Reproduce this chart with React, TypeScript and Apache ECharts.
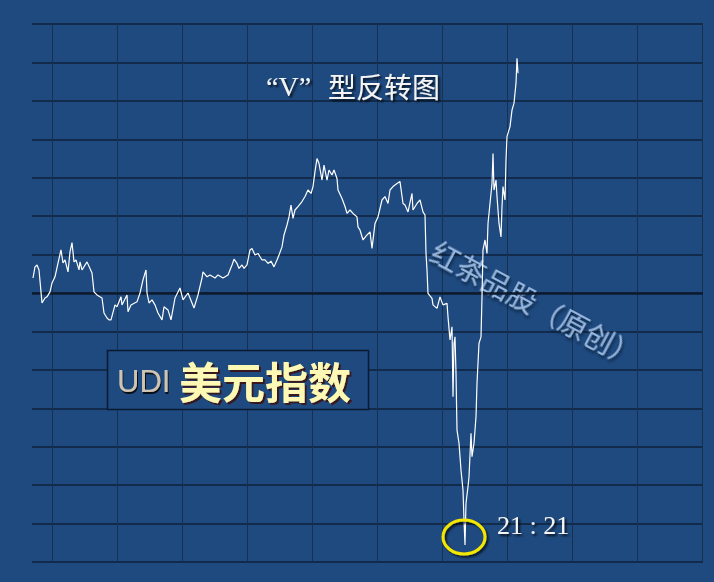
import React, { useEffect, useRef } from "react";
import * as echarts from "echarts";

// Time (minutes from the start of the chart window) and index value (10 units per grid row)
const minutes = [
  1, 3, 5, 7, 9, 10, 13, 15, 18, 20, 23, 26, 29, 31, 33, 36, 38, 40, 42, 44, 47, 48, 50, 55, 60,
  62, 65, 70, 72, 75, 77, 79, 83, 85, 89, 90, 95, 96, 99, 105, 108, 111, 114, 115, 117, 120, 123,
  126, 130, 132, 136, 139, 143, 148, 151, 156, 162, 166, 170, 171, 175, 178, 183, 186, 191, 196,
  200, 202, 205, 207, 210, 212, 215, 218, 220, 223, 226, 230, 233, 236, 239, 242, 245, 247, 250,
  252, 255, 257, 259, 261, 263, 266, 270, 273, 276, 279, 281, 283, 285, 287, 290, 292, 295, 297,
  300, 302, 305, 306, 310, 313, 315, 318, 321, 325, 326, 328, 331, 335, 338, 340, 343, 346, 350,
  353, 356, 358, 361, 365, 368, 371, 373, 376, 380, 381, 385, 388, 391, 393, 394, 395, 396, 400,
  401, 405, 408, 411, 415, 416, 418, 420, 421, 422, 423, 424, 425, 427, 429, 431, 432, 433, 434,
  436, 437, 439, 440, 442, 444, 445, 447, 449, 450, 451, 453, 455, 456, 458, 460, 461, 462, 464,
  465, 467, 469, 470, 471, 473, 474, 475, 478, 480, 482, 484, 485, 486,
];
const values = [
  73.9, 76.8, 77.3, 76.0, 70.3, 67.4, 68.7, 69.0, 70.3, 72.6, 74.2, 77.8, 81.2, 77.8, 78.6, 75.5,
  80.7, 83.1, 78.1, 78.6, 76.0, 78.1, 76.0, 78.1, 75.2, 70.3, 69.5, 68.7, 64.8, 63.5, 63.0, 63.0,
  66.9, 66.4, 69.0, 66.9, 69.5, 65.1, 66.9, 67.7, 70.0, 73.4, 76.0, 70.0, 67.4, 68.2, 66.9, 64.8,
  63.0, 66.4, 65.6, 63.0, 68.7, 71.3, 68.2, 70.0, 66.1, 69.5, 73.9, 75.5, 74.2, 74.7, 73.9, 74.7,
  73.9, 74.7, 77.3, 78.8, 77.7, 76.4, 77.3, 76.4, 77.3, 81.2, 81.6, 79.9, 80.3, 78.6, 78.6, 77.7,
  78.3, 76.8, 78.6, 79.9, 82.0, 85.1, 87.7, 89.8, 92.9, 89.4, 91.6, 92.5, 93.8, 95.1, 96.8, 95.9,
  97.7, 101.6, 105.0, 103.7, 99.4, 103.3, 99.4, 102.0, 100.7, 102.0, 99.8, 96.8, 94.6, 92.5, 90.7,
  91.6, 90.7, 89.8, 87.2, 86.4, 83.8, 85.1, 85.9, 81.6, 88.1, 89.8, 94.2, 95.1, 93.3, 96.8, 97.7,
  98.5, 99.0, 93.3, 92.9, 91.1, 95.9, 91.6, 93.3, 94.2, 91.1, 90.3, 80.3, 76.0, 69.9, 68.6, 66.9,
  66.0, 69.0, 66.9, 67.3, 63.8, 57.8, 61.2, 43.0, 56.9, 58.6, 49.2, 34.3, 30.9, 23.9, 18.7, 10.9,
  4.4, 15.3, 19.6, 22.2, 33.5, 27.4, 30.9, 37.8, 46.5, 56.9, 58.6, 69.0, 81.2, 83.8, 80.3, 88.1,
  93.3, 98.5, 106.3, 96.8, 99.4, 95.1, 88.1, 84.6, 92.5, 97.7, 94.2, 104.6, 110.7, 113.3, 117.6,
  119.4, 124.6, 131.1, 127.2,
];
const yMin = 0;
const yMax = 140;
const yStep = 10;
const midLevel = 70;
const timeSpan = 671;
const verticalDivisions = 10;

const titleQuote = "“V”";
const titleText = "型反转图";
const lowTimeLabel = "21 : 21";
const codeLabel = "UDI";
const nameLabel = "美元指数";
const watermark = "红茶品股（原创）";

const BG = "#1f4a7f";

export default function App() {
  const ref = useRef<HTMLDivElement>(null);
  useEffect(() => {
    if (!ref.current) return;
    const chart = echarts.init(ref.current, null, { renderer: "svg" });
    const data = minutes.map((m, i) => [m, values[i]]);
    const textShadow = {
      textShadowColor: "rgba(0,0,0,0.75)",
      textShadowBlur: 2,
      textShadowOffsetX: 2,
      textShadowOffsetY: 2,
    };
    chart.setOption({
      animation: false,
      backgroundColor: BG,
      grid: [
        { left: 32, top: 24, width: 671, height: 538 },
        { left: 52, top: 24, width: 650, height: 538 },
      ],
      xAxis: [
        { type: "value", gridIndex: 0, min: 0, max: timeSpan, show: false },
        {
          type: "value",
          gridIndex: 1,
          min: 0,
          max: verticalDivisions,
          interval: 1,
          axisLine: { show: false },
          axisTick: { show: false },
          axisLabel: { show: false },
          splitLine: { show: true, lineStyle: { color: "#15314f", width: 1 } },
        },
      ],
      yAxis: [
        {
          type: "value",
          gridIndex: 0,
          min: yMin,
          max: yMax,
          interval: yStep,
          axisLine: { show: false },
          axisTick: { show: false },
          axisLabel: { show: false },
          splitLine: { show: true, lineStyle: { color: "#0f223b", width: 1.5 } },
        },
        { type: "value", gridIndex: 1, min: 0, max: 1, show: false },
      ],
      series: [
        {
          type: "line",
          xAxisIndex: 0,
          yAxisIndex: 0,
          data,
          symbol: "none",
          showSymbol: false,
          z: 3,
          lineStyle: { color: "#ffffff", width: 1.2 },
          markLine: {
            silent: true,
            z: 1,
            symbol: ["none", "none"],
            label: { show: false },
            lineStyle: { color: "#0e1b2e", width: 2.5, type: "solid" },
            data: [{ yAxis: midLevel }],
          },
        },
      ],
      graphic: [
        {
          type: "text",
          z: 1,
          x: 536,
          y: 303,
          rotation: -0.49,
          style: {
            text: watermark,
            font: '29px "Noto Sans CJK SC"',
            fill: "#a9c8ef",
            opacity: 0.85,
            align: "center",
            verticalAlign: "middle",
            textAlign: "center",
            textVerticalAlign: "middle",
            textShadowColor: "rgba(5,20,45,0.9)",
            textShadowBlur: 3,
            textShadowOffsetX: 2,
            textShadowOffsetY: 2,
          },
        },
        {
          type: "text",
          z: 10,
          x: 266,
          y: 86,
          style: {
            text: titleQuote,
            font: '28px "Liberation Serif"',
            fill: "#f4f4f4",
            align: "left",
            verticalAlign: "middle",
            textAlign: "left",
            textVerticalAlign: "middle",
            ...textShadow,
          },
        },
        {
          type: "text",
          z: 10,
          x: 328,
          y: 86,
          style: {
            text: titleText,
            font: '28px "Noto Sans CJK SC"',
            fill: "#f4f4f4",
            align: "left",
            verticalAlign: "middle",
            textAlign: "left",
            textVerticalAlign: "middle",
            ...textShadow,
          },
        },
        {
          type: "ellipse",
          z: 10,
          shape: { cx: 464, cy: 537, rx: 21, ry: 17 },
          style: {
            fill: "none",
            stroke: "#f3e600",
            lineWidth: 3,
            shadowColor: "rgba(0,0,0,0.7)",
            shadowBlur: 2,
            shadowOffsetX: 2,
            shadowOffsetY: 2,
          },
        },
        {
          type: "text",
          z: 10,
          x: 497,
          y: 525,
          style: {
            text: lowTimeLabel,
            font: '26px "Liberation Serif"',
            fill: "#f4f4f4",
            align: "left",
            verticalAlign: "middle",
            textAlign: "left",
            textVerticalAlign: "middle",
            ...textShadow,
          },
        },
        {
          type: "rect",
          z: 8,
          shape: { x: 107.5, y: 350.5, width: 261, height: 59 },
          style: { fill: BG, stroke: "#0b1933", lineWidth: 1.5 },
        },
        {
          type: "text",
          z: 10,
          x: 117,
          y: 381,
          style: {
            text: codeLabel,
            font: '31px "Liberation Sans Narrow", "Liberation Sans", sans-serif',
            fill: "#cfc4b2",
            align: "left",
            verticalAlign: "middle",
            textAlign: "left",
            textVerticalAlign: "middle",
            textShadowColor: "rgba(0,0,0,0.8)",
            textShadowBlur: 1,
            textShadowOffsetX: 1,
            textShadowOffsetY: 2,
          },
        },
        {
          type: "text",
          z: 10,
          x: 179,
          y: 380,
          style: {
            text: nameLabel,
            font: 'bold 43px "Noto Sans CJK SC"',
            fill: "#fdf9b4",
            align: "left",
            verticalAlign: "middle",
            textAlign: "left",
            textVerticalAlign: "middle",
            textShadowColor: "rgba(60,10,10,0.85)",
            textShadowBlur: 1,
            textShadowOffsetX: 2,
            textShadowOffsetY: 2,
          },
        },
      ],
    });
    return () => chart.dispose();
  }, []);
  return (
    <div
      ref={ref}
      style={{ position: "absolute", left: 0, top: 0, width: 714, height: 582 }}
    />
  );
}
